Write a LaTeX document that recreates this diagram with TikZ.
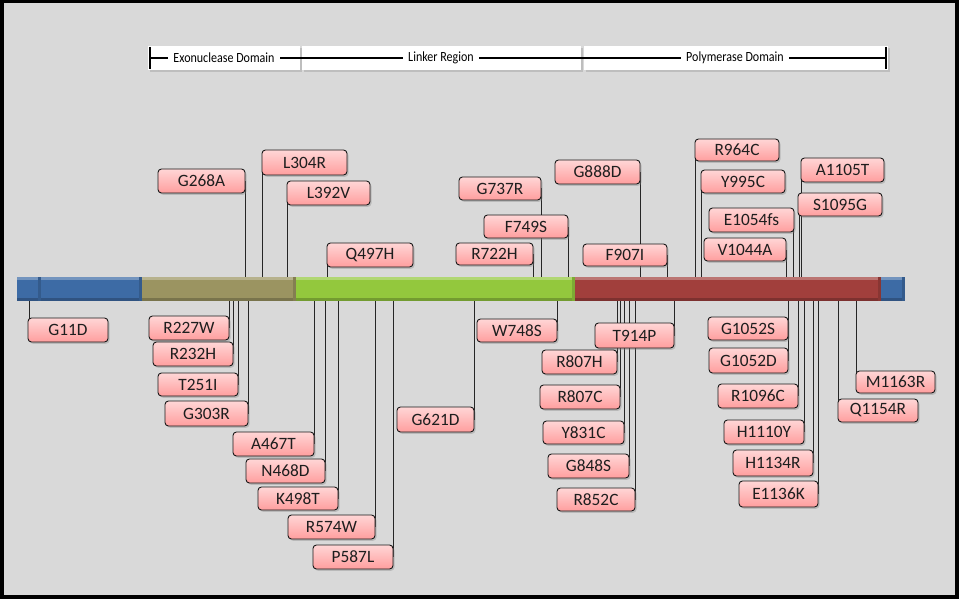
\documentclass[tikz,border=0pt]{standalone}
\usepackage{fontspec}
\setmainfont{Carlito}
\newfontfamily\domfont[FakeStretch=0.86]{Carlito}
\usetikzlibrary{shadows}
\definecolor{bgc}{HTML}{D9D9D9}
\definecolor{mutTop}{HTML}{FFD6D6}
\definecolor{mutBot}{HTML}{FF9E9E}
\definecolor{barBlue}{HTML}{3D6BA5}
\definecolor{barOlive}{HTML}{9B9461}
\definecolor{barGreen}{HTML}{93C83D}
\definecolor{barRed}{HTML}{A13F3C}
\definecolor{txt}{HTML}{1E1E1E}
\pgfdeclarelayer{back}
\pgfdeclarelayer{lines}
\pgfsetlayers{back,lines,main}
\tikzset{
 mut/.style={draw=black!90, line width=0.9pt, rounded corners=3.5pt, top color=mutTop, bottom color=mutBot, inner sep=0pt, text=txt, font=\fontsize{17.3}{19}\selectfont, drop shadow={shadow xshift=1.5pt, shadow yshift=-1.8pt, opacity=0.35}},
 conn/.style={draw=black!85, line width=0.8pt},
 dom/.style={fill=white, draw=none, drop shadow={shadow xshift=1.5pt, shadow yshift=-2pt, opacity=0.3}},
 domtxt/.style={fill=white, inner xsep=5pt, inner ysep=1pt, font=\domfont\fontsize{14}{16}\selectfont, text=black},
}
\newcommand\mlab[6]{\node[mut, minimum width={(#4-#2)*1pt}, minimum height={(#5-#3)*1pt}] (#1) at ({(#2+#4)/2},{(#3+#5)/2}) {#6};}
\newcommand\upc[2]{\coordinate (b#1) at (#2,277);\begin{pgfonlayer}{lines}\draw[conn] (b#1) -- (b#1 |- #1.center);\end{pgfonlayer}}
\newcommand\dnc[2]{\coordinate (b#1) at (#2,301);\begin{pgfonlayer}{lines}\draw[conn] (b#1) -- (b#1 |- #1.center);\end{pgfonlayer}}
\newcommand\barseg[3]{%
 \fill[#3] (#1,277) rectangle (#2,301);
 \fill[#3!72!white] (#1,277) rectangle (#2,280);
 \fill[#3!78!black] (#1,298) rectangle (#2,301);
 \fill[#3!85!black] ({#2-3},277) rectangle (#2,301);
}
\begin{document}
\begin{tikzpicture}[x=1pt,y=-1pt]
\useasboundingbox (0,0) rectangle (959,599);
\begin{pgfonlayer}{back}
\fill[black] (0,0) rectangle (959,599);
\fill[bgc] (3.5,3.5) rectangle (955,595);
\end{pgfonlayer}

% domain header
\node[dom, minimum width=152pt, minimum height=24pt, inner sep=0pt] (exobox) at (224,58) {};
\node[dom, minimum width=279pt, minimum height=24pt, inner sep=0pt] (linkbox) at (441.5,58) {};
\node[dom, minimum width=304pt, minimum height=24pt, inner sep=0pt] (polbox) at (736,58) {};
\draw[line width=2.8pt] (150,58) -- (886,58);
\draw[line width=2.8pt] (150,47) -- (150,69);
\draw[line width=2.8pt] (886,47) -- (886,69);
\node[domtxt] (exo) at (224,58) {Exonuclease Domain};
\node[domtxt] (link) at (441,58) {Linker Region};
\node[domtxt] (pol) at (735,58) {Polymerase Domain};

% main bar
\barseg{17}{41}{barBlue}
\barseg{41}{142}{barBlue}
\barseg{142}{296}{barOlive}
\barseg{296}{575}{barGreen}
\barseg{575}{881}{barRed}
\barseg{881}{905}{barBlue}

% labels above
\mlab{G268A}{158}{169}{245}{193}{G268A}
\mlab{L304R}{262}{150}{347}{175}{L304R}
\mlab{L392V}{287}{181}{370}{205}{L392V}
\mlab{Q497H}{327}{243}{413}{267}{Q497H}
\mlab{G737R}{459}{177}{541}{200}{G737R}
\mlab{F749S}{484}{215}{568}{238}{F749S}
\mlab{R722H}{456}{243}{533}{265}{R722H}
\mlab{G888D}{555}{160}{640}{184}{G888D}
\mlab{F907I}{583}{244}{667}{266}{F907I}
\mlab{R964C}{695}{139}{779}{161}{R964C}
\mlab{Y995C}{701}{170}{785}{193}{Y995C}
\mlab{E1054fs}{709}{208}{794}{232}{E1054fs}
\mlab{V1044A}{704}{238}{786}{261}{V1044A}
\mlab{A1105T}{801}{158}{884}{182}{A1105T}
\mlab{S1095G}{798}{193}{882}{216}{S1095G}

% labels below
\mlab{G11D}{28}{318}{108}{342}{G11D}
\mlab{R227W}{149}{316}{229}{340}{R227W}
\mlab{R232H}{153}{342}{233}{366}{R232H}
\mlab{T251I}{158}{373}{238}{396}{T251I}
\mlab{G303R}{165}{401}{248}{426}{G303R}
\mlab{A467T}{233}{432}{314}{456}{A467T}
\mlab{N468D}{246}{459}{325}{483}{N468D}
\mlab{K498T}{258}{487}{338}{510}{K498T}
\mlab{R574W}{288}{515}{375}{539}{R574W}
\mlab{P587L}{313}{545}{393}{569}{P587L}
\mlab{G621D}{397}{407}{474}{432}{G621D}
\mlab{W748S}{477}{319}{557}{342}{W748S}
\mlab{T914P}{595}{323}{674}{348}{T914P}
\mlab{R807H}{542}{350}{617}{374}{R807H}
\mlab{R807C}{540}{385}{620}{409}{R807C}
\mlab{Y831C}{543}{421}{624}{444}{Y831C}
\mlab{G848S}{548}{454}{629}{478}{G848S}
\mlab{R852C}{557}{488}{635}{511}{R852C}
\mlab{G1052S}{708}{317}{788}{340}{G1052S}
\mlab{G1052D}{709}{348}{788}{373}{G1052D}
\mlab{R1096C}{718}{384}{798}{408}{R1096C}
\mlab{H1110Y}{724}{420}{804}{444}{H1110Y}
\mlab{H1134R}{733}{450}{813}{476}{H1134R}
\mlab{E1136K}{739}{481}{818}{507}{E1136K}
\mlab{Q1154R}{838}{399}{918}{422}{Q1154R}
\mlab{M1163R}{856}{371}{935}{393}{M1163R}

% connectors above
\upc{G268A}{245}
\upc{L304R}{262}
\upc{L392V}{287}
\upc{Q497H}{327}
\upc{G737R}{541}
\upc{F749S}{568}
\upc{R722H}{533}
\upc{G888D}{640}
\upc{F907I}{667}
\upc{R964C}{695}
\upc{Y995C}{701}
\upc{E1054fs}{793}
\upc{V1044A}{786}
\upc{A1105T}{801.5}
\upc{S1095G}{799.5}

% connectors below
\dnc{G11D}{29}
\dnc{R227W}{229}
\dnc{R232H}{233}
\dnc{T251I}{238}
\dnc{G303R}{248}
\dnc{A467T}{314}
\dnc{N468D}{325}
\dnc{K498T}{338}
\dnc{R574W}{375}
\dnc{P587L}{393}
\dnc{G621D}{474}
\dnc{W748S}{557}
\dnc{T914P}{674}
\dnc{R807H}{617}
\dnc{R807C}{620}
\dnc{Y831C}{624}
\dnc{G848S}{629}
\dnc{R852C}{635}
\dnc{G1052S}{788}
\dnc{G1052D}{788}
\dnc{R1096C}{798}
\dnc{H1110Y}{804}
\dnc{H1134R}{813}
\dnc{E1136K}{818}
\dnc{Q1154R}{838}
\dnc{M1163R}{856}
\end{tikzpicture}
\end{document}
